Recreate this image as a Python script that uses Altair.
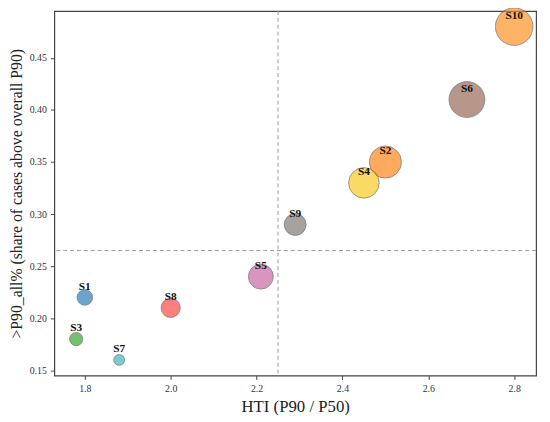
import altair as alt
import pandas as pd

labels = ["S1", "S2", "S3", "S4", "S5", "S6", "S7", "S8", "S9", "S10"]
hti = [1.80, 2.50, 1.78, 2.45, 2.21, 2.69, 1.88, 2.00, 2.29, 2.80]
share = [0.22, 0.35, 0.18, 0.33, 0.24, 0.41, 0.16, 0.21, 0.29, 0.48]
weight = [25, 106, 18, 96, 64, 132, 12, 38, 49, 145]
colors = ["#1f77b4", "#ff7f0e", "#2ca02c", "#f7c815", "#c4609f",
          "#94604f", "#2bb5b5", "#ff3d3d", "#7a7270", "#ff8c1a"]
x_ticks = [1.8, 2.0, 2.2, 2.4, 2.6, 2.8]
y_ticks = [0.15, 0.20, 0.25, 0.30, 0.35, 0.40, 0.45]

df = pd.DataFrame({"label": labels, "hti": hti, "share": share,
                   "weight": weight, "order": list(range(len(labels)))})

FONT = "Liberation Serif"

xscale = alt.Scale(domain=[1.729, 2.851], nice=False, zero=False)
yscale = alt.Scale(domain=[0.145, 0.495], nice=False, zero=False)

base = alt.Chart(df)

points = base.mark_circle(opacity=0.66, stroke="#333333", strokeWidth=0.9,
                          strokeOpacity=0.8).encode(
    x=alt.X("hti:Q", scale=xscale, title="HTI (P90 / P50)",
            axis=alt.Axis(values=x_ticks, format=".1f", labelFont=FONT,
                          titleFont=FONT, titleFontSize=17, labelPadding=4,
                          titlePadding=6)),
    y=alt.Y("share:Q", scale=yscale,
            title=">P90_all% (share of cases above overall P90)",
            axis=alt.Axis(values=y_ticks, format=".2f", labelFont=FONT,
                          titleFont=FONT, titleFontSize=16, labelPadding=4,
                          titlePadding=5, titleLimit=400)),
    size=alt.Size("weight:Q", scale=alt.Scale(domain=[0, 145], range=[0, 1452]), legend=None),
    color=alt.Color("label:N", scale=alt.Scale(domain=labels, range=colors), legend=None),
    order=alt.Order("order:Q"),
)

vline = base.mark_rule(color="#9a9a9a", strokeDash=[4, 3], strokeWidth=1).encode(
    x=alt.X("median(hti):Q", scale=xscale)
)
hline = base.mark_rule(color="#9a9a9a", strokeDash=[4, 3], strokeWidth=1).encode(
    y=alt.Y("median(share):Q", scale=yscale)
)

text = base.mark_text(font=FONT, fontSize=11.5, fontWeight="bold", dy=-11,
                      color="#111111").encode(
    x=alt.X("hti:Q", scale=xscale),
    y=alt.Y("share:Q", scale=yscale),
    text="label:N",
)

chart = alt.layer(vline, hline, points, text).properties(
    width=489, height=370,
    autosize=alt.AutoSizeParams(type="none"),
    padding={"left": 47, "top": 0, "right": 6, "bottom": 37},
).configure_view(
    stroke="#444444", strokeWidth=1.2
).configure_axis(
    domain=False, grid=False,
    tickColor="#444444", tickSize=4, tickWidth=1,
    labelFont=FONT, labelFontSize=10, labelColor="#333333",
    titleFont=FONT, titleFontWeight="normal", titleColor="#222222",
)

chart.save("out.html", embed_options={"renderer": "svg", "actions": False})
